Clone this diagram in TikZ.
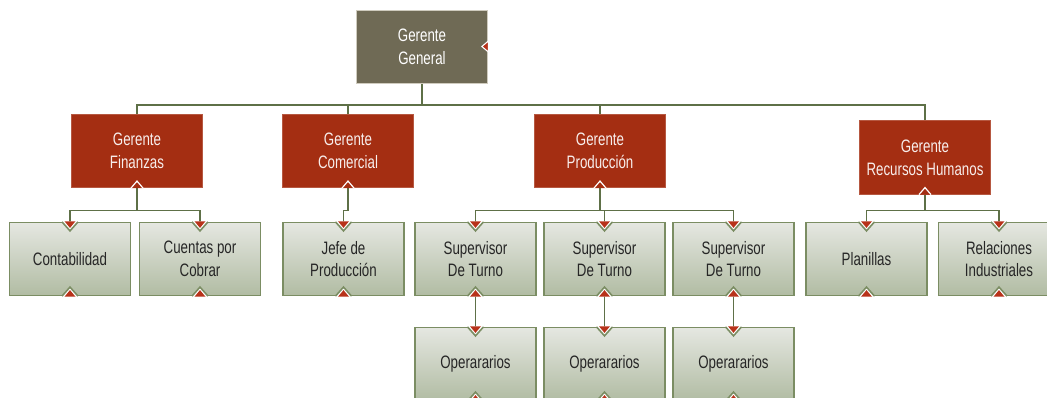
\documentclass[tikz,border=0pt]{standalone}
\usepackage{fontspec}
\newfontfamily\orgfont[FakeStretch=0.74]{Liberation Sans}
\usetikzlibrary{calc}
\definecolor{orgred}{HTML}{A42E12}
\definecolor{orgtaupe}{HTML}{6F6A55}
\definecolor{orgrim}{HTML}{CFCBBE}
\definecolor{orgline}{HTML}{5E7047}
\definecolor{orgedge}{HTML}{7B8D63}
\definecolor{orgtop}{HTML}{E5E7E1}
\definecolor{orgbot}{HTML}{B1BCA3}
\definecolor{orgmark}{HTML}{B8321A}

\tikzset{
  orgtext/.style={align=center, inner sep=0pt, font=\orgfont\fontsize{13.5}{17}\selectfont},
  headbox/.style={orgtext, draw=orgrim, fill=orgtaupe, line width=0.8pt, text=white,
    minimum width=98pt, minimum height=55pt},
  mgrbox/.style={orgtext, draw=orgred!80!white, fill=orgred, line width=0.6pt, text=white!92!orgred,
    minimum width=98pt, minimum height=55pt},
  unitbox/.style={orgtext, draw=orgedge, line width=1.2pt, top color=orgtop, bottom color=orgbot,
    text=black!85, minimum width=91pt, minimum height=54.5pt},
  conn/.style={orgline, line width=1.4pt},
}

% notch on the top edge of a unit
\newcommand{\topnotch}[1]{%
  \fill[white, shift={(#1.north)}] (-8,-0.6) -- (8,-0.6) -- (0,9) -- cycle;
  \draw[orgedge, line width=1.2pt, shift={(#1.north)}] (-8,0) -- (0,9) -- (8,0);
  \fill[orgmark, shift={(#1.north)}] (-5.5,-0.6) -- (5.5,-0.6) -- (0,6) -- cycle;
}
% notch on the bottom edge of a unit
\newcommand{\botnotch}[1]{%
  \fill[white, shift={(#1.south)}] (-8,0.6) -- (8,0.6) -- (0,-9) -- cycle;
  \draw[orgedge, line width=1.2pt, shift={(#1.south)}] (-8,0) -- (0,-9) -- (8,0);
  \fill[orgmark, shift={(#1.south)}] (-5.5,0.6) -- (5.5,0.6) -- (0,-6) -- cycle;
}
% small chevron under a manager
\newcommand{\mgrnotch}[1]{%
  \filldraw[draw=white, fill=orgred, line width=0.9pt, shift={(#1.south)}]
    (-6,0) -- (0,-7) -- (6,0);
}

\begin{document}
\begin{tikzpicture}[x=0.75pt, y=-0.75pt]
  \useasboundingbox (0,0) rectangle (1047,398);

  % Top level
  \node[headbox] (gen) at (422,47) {Gerente\\General};

  % Managers
  \node[mgrbox] (fin) at (137,151) {Gerente\\Finanzas};
  \node[mgrbox] (com) at (348,151) {Gerente\\Comercial};
  \node[mgrbox] (prod) at (600,151) {Gerente\\Producción};
  \node[mgrbox] (rh) at (925,157.5) {Gerente\\Recursos Humanos};

  % Units
  \node[unitbox] (cont) at (70,259) {Contabilidad};
  \node[unitbox] (cxc) at (200,259) {Cuentas por\\Cobrar};
  \node[unitbox] (jefe) at (343.5,259) {Jefe de\\Producción};
  \node[unitbox] (supa) at (475.5,259) {Supervisor\\De Turno};
  \node[unitbox] (supb) at (604.5,259) {Supervisor\\De Turno};
  \node[unitbox] (supc) at (733.5,259) {Supervisor\\De Turno};
  \node[unitbox] (plan) at (866.5,259) {Planillas};
  \node[unitbox] (rel) at (999,259) {Relaciones\\Industriales};

  % Workers
  \node[unitbox] (opa) at (475.5,364) {Operararios};
  \node[unitbox] (opb) at (604.5,364) {Operararios};
  \node[unitbox] (opc) at (733.5,364) {Operararios};

  % Bus lines
  \coordinate (bustop) at (0,105);
  \coordinate (busmid) at (0,210.5);

  % Connectors
  \draw[conn] (fin.north) |- (bustop -| rh.north) -- (rh.north);
  \draw[conn] (gen.south) -- (gen.south |- bustop);
  \draw[conn] (com.north) -- (com.north |- bustop);
  \draw[conn] (prod.north) -- (prod.north |- bustop);

  \draw[conn] (fin.south) -- (fin.south |- busmid) -| (cont.north);
  \draw[conn] (fin.south |- busmid) -| (cxc.north);
  \draw[conn] (com.south) -- (com.south |- busmid) -| (jefe.north);
  \draw[conn] (prod.south) -- (prod.south |- busmid) -| (supa.north);
  \draw[conn] (prod.south |- busmid) -| (supc.north);
  \draw[conn] (prod.south |- busmid) -| (supb.north);
  \draw[conn] (rh.south) -- (rh.south |- busmid) -| (plan.north);
  \draw[conn] (rh.south |- busmid) -| (rel.north);

  \draw[conn] (supa.south) -- (opa.north);
  \draw[conn] (supb.south) -- (opb.north);
  \draw[conn] (supc.south) -- (opc.north);

  % Handles
  \foreach \u in {cont,cxc,jefe,supa,supb,supc,plan,rel,opa,opb,opc} {
    \topnotch{\u}
    \botnotch{\u}
  }
  \foreach \m in {fin,com,prod,rh} {
    \mgrnotch{\m}
  }
  \filldraw[draw=white, fill=orgmark, line width=0.8pt, shift={(gen.east)}]
    (0.5,-6) -- (-6,-0.5) -- (0.5,5) -- cycle;
\end{tikzpicture}
\end{document}
